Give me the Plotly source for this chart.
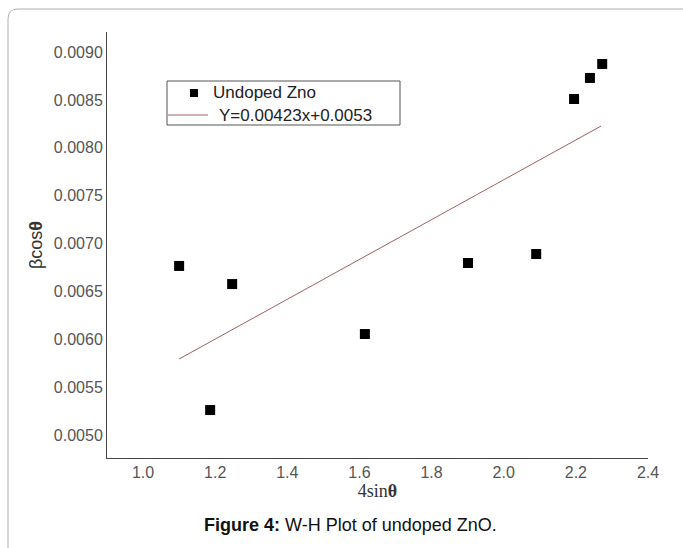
import plotly.graph_objects as go

# Data
x_vals = [1.10, 1.186, 1.247, 1.615, 1.901, 2.090, 2.195, 2.239, 2.273]
y_vals = [0.006766, 0.005261, 0.006577, 0.006055, 0.006797, 0.006891, 0.008510, 0.008730, 0.008876]
fit_x = [1.10, 2.27]
fit_y = [0.005794, 0.008228]
series_name = "Undoped Zno"
fit_name = "Y=0.00423x+0.0053"
caption = "<b>Figure 4:</b> W-H Plot of undoped ZnO."
x_ticks = [1.0, 1.2, 1.4, 1.6, 1.8, 2.0, 2.2, 2.4]
y_ticks = [0.0050, 0.0055, 0.0060, 0.0065, 0.0070, 0.0075, 0.0080, 0.0085, 0.0090]

W, H = 683, 548
L, R, T, B = 107, 35, 32, 90
pw, ph = W - L - R, H - T - B

def px_x(p):
    return (p - L) / pw

def px_y(p):
    return (H - B - p) / ph

fit_color = "#a06060"

fig = go.Figure()
fig.add_trace(go.Scatter(
    x=x_vals, y=y_vals, mode="markers", name=series_name,
    marker=dict(symbol="square", size=10, color="black"),
    cliponaxis=False,
))
fig.add_trace(go.Scatter(
    x=fit_x, y=fit_y, mode="lines", name=fit_name,
    line=dict(color=fit_color, width=1),
))

# outer rounded frame of the figure panel
r = 10
x0, y0 = px_x(8), px_y(9)
x1, yb = px_x(W + 20), px_y(H + 20)
dx, dy = r / pw, r / ph
path = (f"M {x0},{yb} L {x0},{y0 - dy} Q {x0},{y0} {x0 + dx},{y0} L {x1},{y0}")
fig.add_shape(type="path", path=path, xref="paper", yref="paper",
              line=dict(color="#b0b0b0", width=1), layer="below")

# legend box drawn to match the reference's compact layout
fig.add_shape(type="rect", xref="paper", yref="paper",
              x0=px_x(167), x1=px_x(400), y0=px_y(81), y1=px_y(125),
              line=dict(color="#555", width=1), fillcolor="white", layer="above")
fig.add_shape(type="rect", xref="paper", yref="paper",
              x0=px_x(190), x1=px_x(198), y0=px_y(89), y1=px_y(97),
              line=dict(width=0), fillcolor="black", layer="above")
fig.add_shape(type="line", xref="paper", yref="paper",
              x0=px_x(168), x1=px_x(208), y0=px_y(115), y1=px_y(115),
              line=dict(color=fit_color, width=1), layer="above")
legend_font = dict(family="Liberation Sans, Arial", size=17, color="#222")
fig.add_annotation(text=series_name, x=px_x(211), y=px_y(93), xref="paper", yref="paper",
                   xanchor="left", yanchor="middle", showarrow=False, font=legend_font)
fig.add_annotation(text=fit_name, x=px_x(217), y=px_y(115), xref="paper", yref="paper",
                   xanchor="left", yanchor="middle", showarrow=False, font=legend_font)

fig.add_annotation(
    text=caption,
    x=px_x(350), y=px_y(525), xref="paper", yref="paper",
    xanchor="center", yanchor="middle", showarrow=False,
    font=dict(family="Liberation Sans, Arial", size=18, color="#111"),
)

fig.update_layout(
    width=W, height=H,
    margin=dict(l=L, r=R, t=T, b=B, autoexpand=False),
    paper_bgcolor="white", plot_bgcolor="white",
    showlegend=False,
    font=dict(family="Liberation Sans, Arial"),
)
fig.update_xaxes(
    range=[0.9, 2.4], tickvals=x_ticks, ticktext=[f"{v:.1f}" for v in x_ticks],
    showline=True, linecolor="#444", linewidth=1, showgrid=False, zeroline=False,
    ticks="", tickfont=dict(size=16, color="#555"),
    title=dict(text="4sin<b>θ</b>", font=dict(family="Liberation Serif, Times New Roman", size=18, color="#333"), standoff=4),
)
fig.update_yaxes(
    range=[0.00476, 0.00921], tickvals=y_ticks, ticktext=[f"{v:.4f}" for v in y_ticks],
    showline=True, linecolor="#444", linewidth=1, showgrid=False, zeroline=False,
    ticks="", tickfont=dict(size=16, color="#555"),
    title=dict(text="βcos<b>θ</b>", font=dict(family="Liberation Sans, Arial", size=18, color="#333"), standoff=6),
)

fig.write_html("out.html")
